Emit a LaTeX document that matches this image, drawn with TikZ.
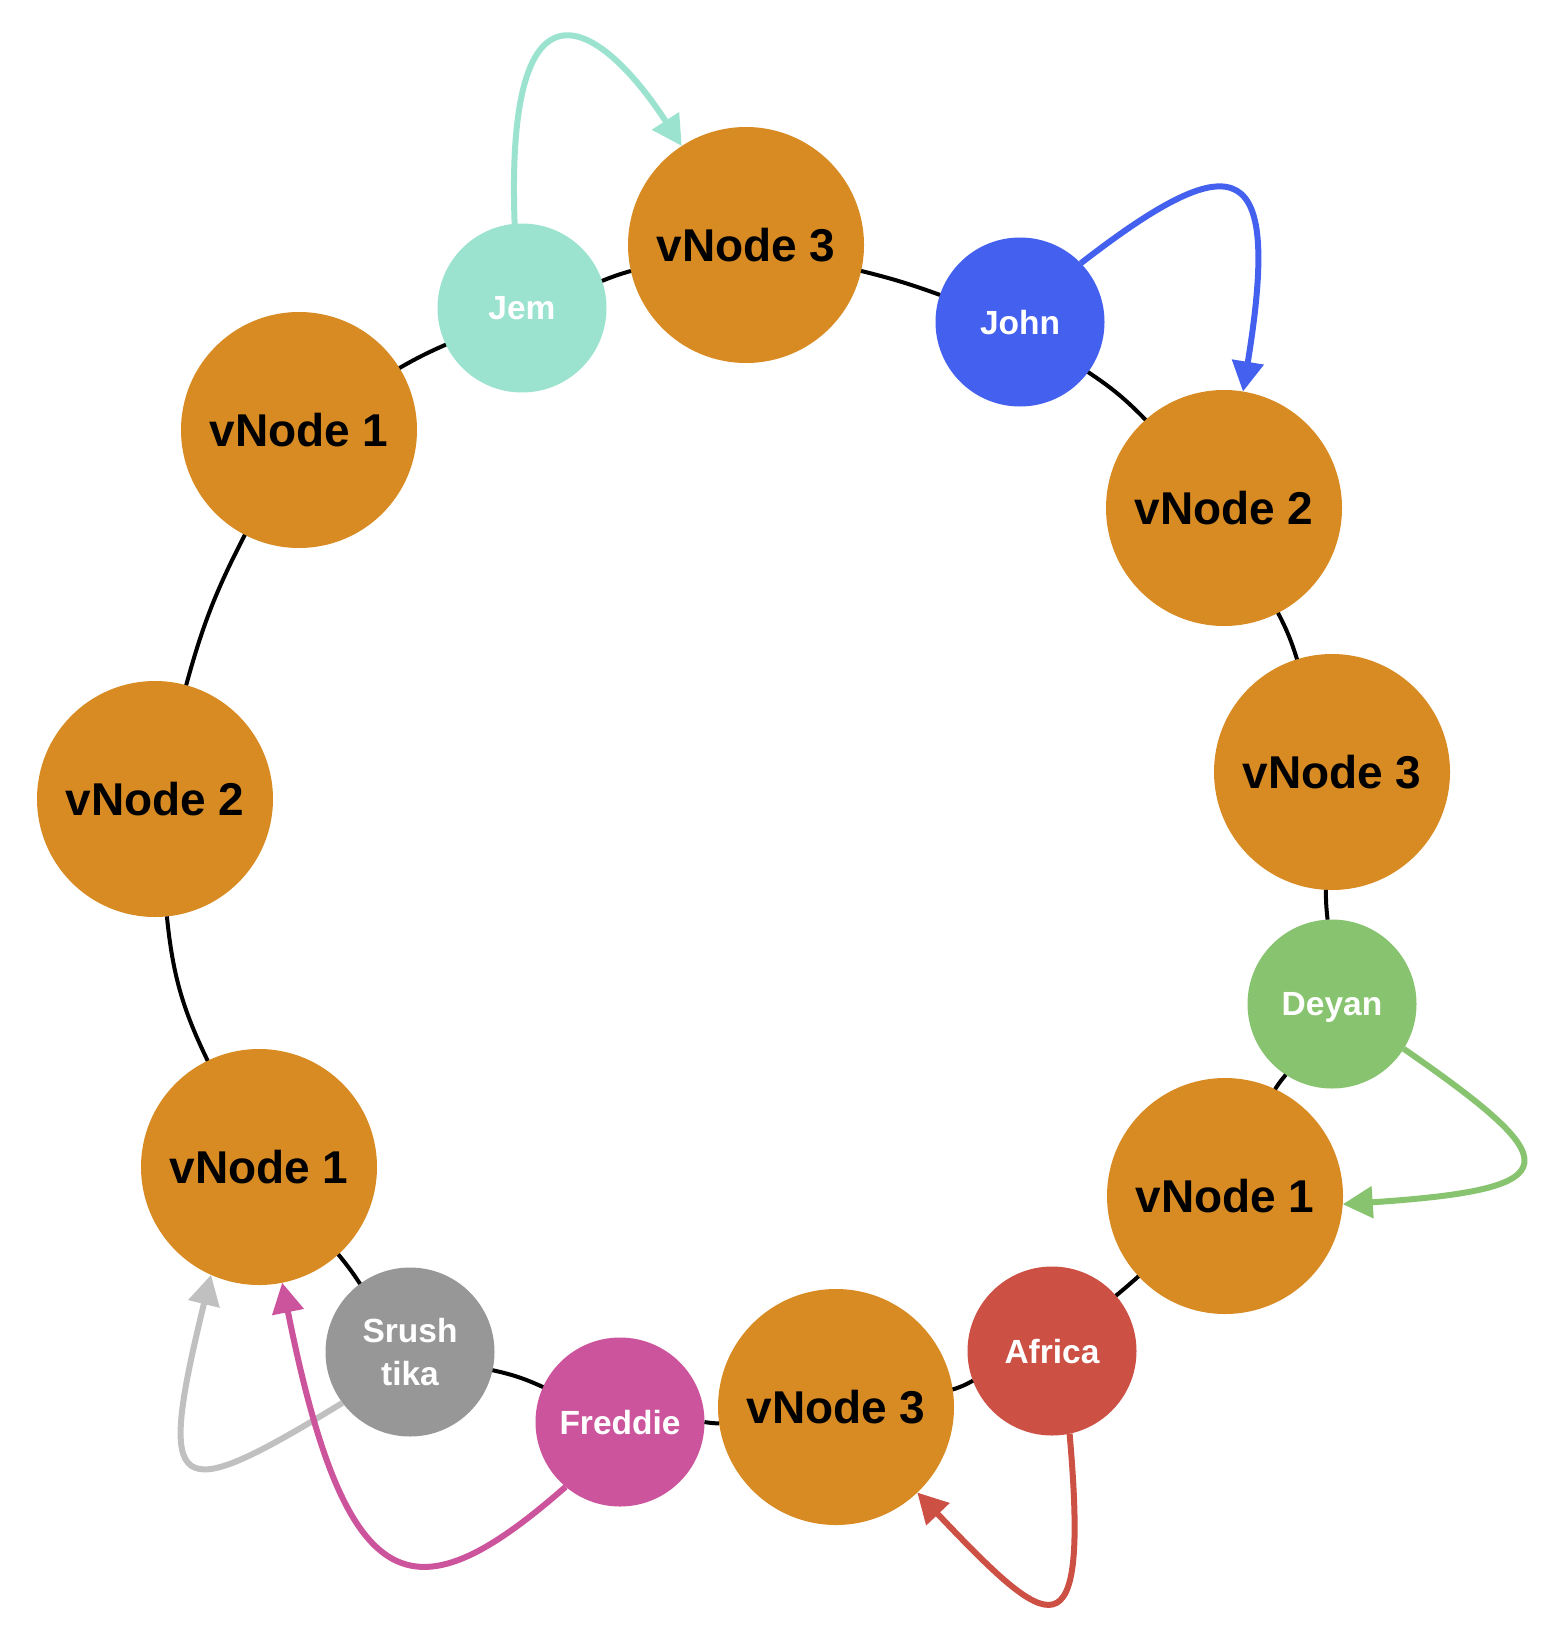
\documentclass[tikz,border=0pt]{standalone}
\usepackage{fontspec}
\setmainfont{Liberation Sans}
\usetikzlibrary{arrows.meta}
\definecolor{vorange}{HTML}{D88B23}
\definecolor{cjem}{HTML}{9BE3CF}
\definecolor{cjohn}{HTML}{4361EE}
\definecolor{cdeyan}{HTML}{88C46F}
\definecolor{cafrica}{HTML}{CC5044}
\definecolor{cfreddie}{HTML}{CC549C}
\definecolor{csrush}{HTML}{979797}
\definecolor{csrushline}{HTML}{C0C0C0}
\tikzset{
  vnode/.style={circle, fill=vorange, minimum size=236pt, inner sep=0pt, outer sep=0pt,
    font=\bfseries\fontsize{46}{52}\selectfont, text=black, text depth=0pt},
  person/.style={circle, fill=#1, minimum size=169pt, inner sep=0pt, outer sep=0pt,
    font=\bfseries\fontsize{33.5}{43}\selectfont, text=white, text depth=0pt, align=center},
  ring/.style={draw=black, line width=4pt},
  link/.style={draw=#1, line width=6pt, -{Triangle[length=30pt,width=31pt]}}
}
\begin{document}
\begin{tikzpicture}[x=1pt,y=-1pt]
\useasboundingbox (0,0) rectangle (1557,1643);
% nodes
\node[vnode] (v3t) at (746,245) {vNode 3};
\node[person=cjohn] (john) at (1020,322) {John};
\node[vnode] (v2r) at (1224,508) {vNode 2};
\node[vnode] (v3r) at (1332,772) {vNode 3};
\node[person=cdeyan] (deyan) at (1332,1004) {Deyan};
\node[vnode] (v1r) at (1225,1196) {vNode 1};
\node[person=cafrica] (africa) at (1052,1351) {Africa};
\node[vnode] (v3b) at (836,1407) {vNode 3};
\node[person=cfreddie] (freddie) at (620,1422) {Freddie};
\node[person=csrush] (srush) at (410,1352) {Srush\\tika};
\node[vnode] (v1bl) at (259,1167) {vNode 1};
\node[vnode] (v2l) at (155,799) {vNode 2};
\node[vnode] (v1tl) at (299,430) {vNode 1};
\node[person=cjem] (jem) at (522,308) {Jem};
% ring
\draw[ring] (v3t) to[bend left=3] (john);
\draw[ring] (john) to[bend left=6] (v2r);
\draw[ring] (v2r) to[bend left=5] (v3r);
\draw[ring] (v3r) to[bend right=3] (deyan);
\draw[ring] (deyan) to[bend right=4] (v1r);
\draw[ring] (v1r) to[bend left=1] (africa);
\draw[ring] (africa) to[bend left=6] (v3b);
\draw[ring] (v3b) to[bend left=4] (freddie);
\draw[ring] (freddie) to[bend right=6] (srush);
\draw[ring] (srush) to[bend right=3] (v1bl);
\draw[ring] (v1bl) to[bend left=10] (v2l);
\draw[ring] (v2l) to[bend left=6] (v1tl);
\draw[ring] (v1tl) to[bend left=3] (jem);
\draw[ring] (jem) to[bend left=3] (v3t);
% coloured arrows
\draw[link=csrushline] (srush.217) .. controls (172,1507) and (156,1500) .. (v1bl.246);
\draw[link=cfreddie] (freddie.230) .. controls (416,1618) and (347,1607) .. (v1bl);
\draw[link=cjem] (jem.95) .. controls (505,-40) and (600,20) .. (v3t);
\draw[link=cjohn] (john.44) .. controls (1240,140) and (1281,159) .. (v2r);
\draw[link=cdeyan] (deyan.-32) .. controls (1567,1162) and (1573,1189) .. (v1r.-4);
\draw[link=cafrica] (africa.-78) .. controls (1090,1665) and (1049,1631) .. (v3b);
\end{tikzpicture}
\end{document}
